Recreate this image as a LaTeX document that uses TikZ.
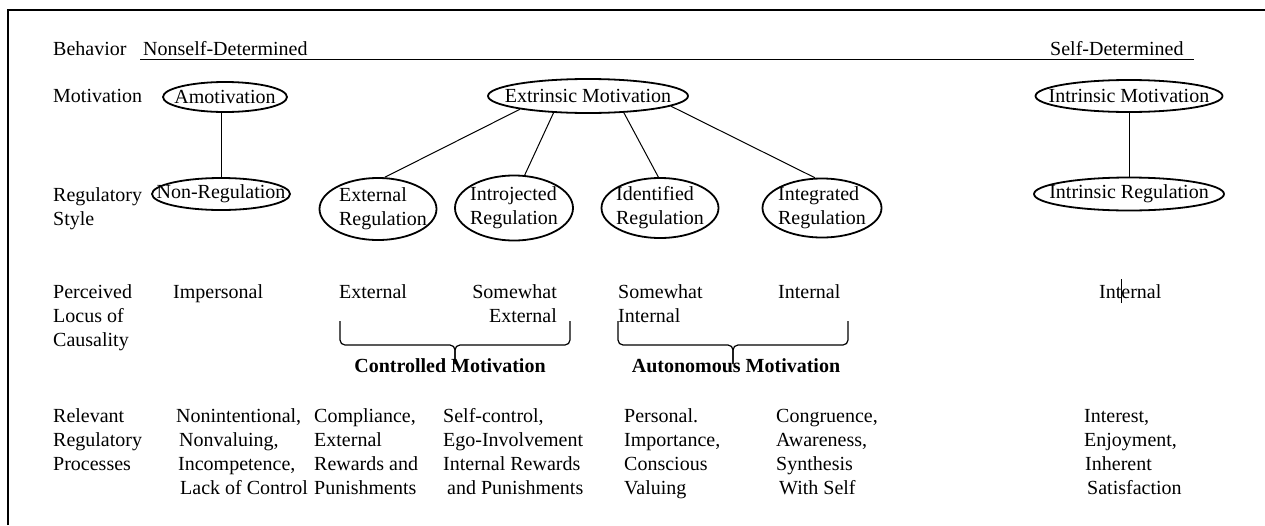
\documentclass[tikz,border=0pt]{standalone}
\usepackage{fontspec}
\setmainfont{Liberation Serif}
\usetikzlibrary{shapes.geometric}

\begin{document}
\begin{tikzpicture}[x=1pt,y=-1pt]
		\tikzset{every node/.style = {font=\fontsize{20}{24}\selectfont,inner sep=0pt}}
		\tikzset{oval/.style = {shape=ellipse,draw,line width=1.8pt,inner sep=0pt}}
		\tikzset{txt/.style = {anchor=base west,align=left}}
		\tikzset{link/.style = {draw,line width=1pt}}
		\tikzset{bracket/.style = {line width=1.2pt,rounded corners=5pt}}
		\useasboundingbox (0,0) rectangle (1265,525);
		\draw[line width=2pt] (8,525) -- (8,10) -- (1265,10);
		\node[txt] (beh) at (53,55) {Behavior};
		\node[txt] (mot) at (53,102) {Motivation};
		\node[txt] (reg) at (53,225) {Regulatory\\Style};
		\node[txt] (loc) at (53,346) {Perceived\\Locus of\\Causality};
		\node[txt] (proc) at (53,470) {Relevant\\Regulatory\\Processes};
		\node[txt] (nsd) at (143,55) {Nonself-Determined};
		\node[txt] (sd) at (1050,55) {Self-Determined};
		\draw[line width=1pt] ([shift={(-3,4)}]nsd.base west) -- ([shift={(10,4)}]sd.base east);
		\node[oval,minimum width=124pt,minimum height=30pt,label=center:Amotivation] (amot) at (225,97) {};
		\node[oval,minimum width=200pt,minimum height=34pt,label=center:Extrinsic Motivation] (extr) at (588,96) {};
		\node[oval,minimum width=187pt,minimum height=32pt,label=center:Intrinsic Motivation] (intm) at (1129,96) {};
		\node[oval,minimum width=138pt,minimum height=32pt,label=center:Non-Regulation] (nonreg) at (221,194) {};
		\node[oval,minimum width=117pt,minimum height=62pt,label={[align=left,xshift=5pt]center:External\\Regulation}] (exreg) at (378,209) {};
		\node[oval,minimum width=118pt,minimum height=65pt,label={[align=left]center:Introjected\\Regulation}] (intro) at (514,208) {};
		\node[oval,minimum width=117pt,minimum height=60pt,label={[align=left]center:Identified\\Regulation}] (ident) at (660,208) {};
		\node[oval,minimum width=119pt,minimum height=59pt,label={[align=left]center:Integrated\\Regulation}] (integ) at (822,208) {};
		\node[oval,minimum width=190pt,minimum height=33pt,label=center:Intrinsic Regulation] (intr) at (1129,194) {};
		\path[link] (amot.south -| nonreg.north) edge (nonreg.north);
		\path[link] (intm) edge (intr);
		\path[link] (extr.191) edge (exreg.78);
		\path[link] (extr.206) edge (intro.72);
		\path[link] (extr.335) edge (ident.93);
		\path[link] (extr.353) edge (integ.103);
		\node[txt] (imp) at (173,298) {Impersonal};
		\node[txt] (ext) at (339,298) {External};
		\node[anchor=base east,align=right] (swext) at (557,322) {Somewhat\\External};
		\node[txt] (swint) at (618,322) {Somewhat\\Internal};
		\node[txt] (intl) at (778,298) {Internal};
		\node[txt] (intl2) at (1099,298) {Int\makebox[0pt]{\rule[-5pt]{1pt}{24pt}}ernal};
		\coordinate (cbl) at (340,321);
		\coordinate (cbr) at (570,321);
		\coordinate (cbt) at (455,364);
		\coordinate (abl) at (618,321);
		\coordinate (abr) at (848,321);
		\coordinate (abt) at (733,364);
		\draw[bracket] (cbl) -- ++(0,24) -| (cbt);
		\draw[bracket] (cbr) -- ++(0,24) -| (cbt);
		\draw[bracket] (abl) -- ++(0,24) -| (abt);
		\draw[bracket] (abr) -- ++(0,24) -| (abt);
		\node[anchor=base] (ctrl) at (450,372) {\bfseries Controlled Motivation};
		\node[anchor=base] (auto) at (736,372) {\bfseries Autonomous Motivation};
		\node[txt] (nonint) at (176,494) {Nonintentional,\\\hspace*{3pt}Nonvaluing,\\\hspace*{2pt}Incompetence,\\\hspace*{4pt}Lack of Control};
		\node[txt] (compl) at (314,494) {Compliance,\\External\\Rewards and\\Punishments};
		\node[txt] (selfc) at (443,494) {Self-control,\\Ego-Involvement\\Internal Rewards\\\hspace*{4pt}and Punishments};
		\node[txt] (pers) at (624,494) {Personal.\\Importance,\\Conscious\\Valuing};
		\node[txt] (congr) at (776,494) {Congruence,\\Awareness,\\Synthesis\\\hspace*{3pt}With Self};
		\node[txt] (inter) at (1084,494) {Interest,\\Enjoyment,\\\hspace*{1pt}Inherent\\\hspace*{3pt}Satisfaction};
	\end{tikzpicture}
\end{document}
